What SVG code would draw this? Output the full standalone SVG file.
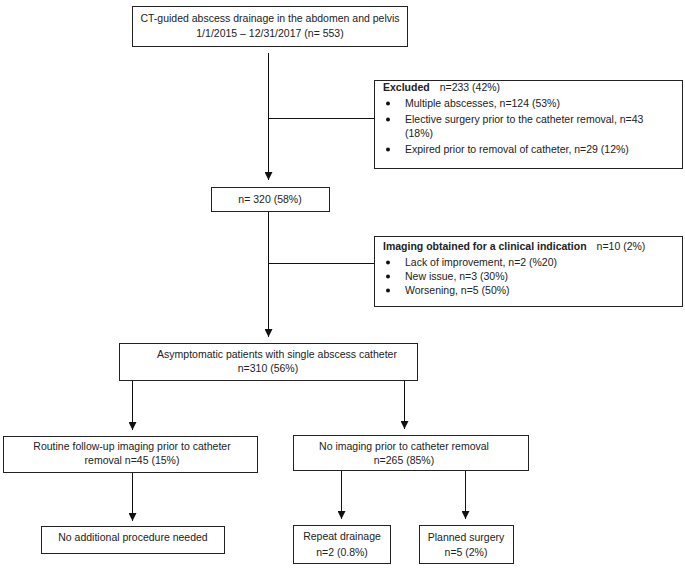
<svg xmlns="http://www.w3.org/2000/svg" width="685" height="571" viewBox="0 0 685 571">
<style>
.box{fill:#fff;stroke:#222;stroke-width:1}
.t{font-family:"Liberation Sans",Arial,sans-serif;font-size:10.5px;fill:#222}
.c{text-anchor:middle}
.b{font-weight:bold}
.bu{fill:#111}
.ln{stroke:#111;stroke-width:1;fill:none}
</style>
<defs>
<marker id="ah" viewBox="0 0 8 8" refX="8" refY="4" markerWidth="8" markerHeight="8" markerUnits="userSpaceOnUse" orient="auto">
<path d="M0,0 L8,4 L0,8 z" fill="#111"/>
</marker>
</defs>
<rect width="685" height="571" fill="#fff"/>
<g id="connectors">
<line class="ln" x1="268.5" y1="53" x2="268.5" y2="180" marker-end="url(#ah)"/>
<line class="ln" x1="268.5" y1="118.5" x2="374" y2="118.5"/>
<line class="ln" x1="268.5" y1="212" x2="268.5" y2="337" marker-end="url(#ah)"/>
<line class="ln" x1="268.5" y1="263.5" x2="374" y2="263.5"/>
<line class="ln" x1="132.5" y1="381" x2="132.5" y2="430" marker-end="url(#ah)"/>
<line class="ln" x1="404.5" y1="381" x2="404.5" y2="429" marker-end="url(#ah)"/>
<line class="ln" x1="132.5" y1="472" x2="132.5" y2="521" marker-end="url(#ah)"/>
<line class="ln" x1="341.5" y1="470" x2="341.5" y2="519" marker-end="url(#ah)"/>
<line class="ln" x1="465.5" y1="470" x2="465.5" y2="519" marker-end="url(#ah)"/>
</g>
<g id="node-start">
<rect class="box" x="132.5" y="6.5" width="275" height="40"/>
<text class="t c" x="270" y="22">CT-guided abscess drainage in the abdomen and pelvis</text>
<text class="t c" x="270" y="37">1/1/2015 – 12/31/2017 (n= 553)</text>
</g>
<g id="node-excluded">
<rect class="box" x="374.5" y="80.5" width="308" height="88"/>
<text class="t" x="383" y="91"><tspan class="b">Excluded</tspan><tspan dx="10">n=233 (42%)</tspan></text>
<circle class="bu" cx="388" cy="103.5" r="2"/>
<text class="t" x="405" y="107">Multiple abscesses, n=124 (53%)</text>
<circle class="bu" cx="388" cy="119.5" r="2"/>
<text class="t" x="405" y="123">Elective surgery prior to the catheter removal, n=43</text>
<text class="t" x="405" y="137">(18%)</text>
<circle class="bu" cx="388" cy="149.5" r="2"/>
<text class="t" x="405" y="153">Expired prior to removal of catheter, n=29 (12%)</text>
</g>
<g id="node-320">
<rect class="box" x="211.5" y="187.5" width="118" height="24"/>
<text class="t c" x="270" y="203">n= 320 (58%)</text>
</g>
<g id="node-imaging">
<rect class="box" x="374.5" y="236.5" width="308" height="70"/>
<text class="t" x="383" y="250"><tspan class="b">Imaging obtained for a clinical indication</tspan><tspan dx="10">n=10 (2%)</tspan></text>
<circle class="bu" cx="388" cy="262.5" r="2"/>
<text class="t" x="405" y="266">Lack of improvement, n=2 (%20)</text>
<circle class="bu" cx="388" cy="276.5" r="2"/>
<text class="t" x="405" y="280">New issue, n=3 (30%)</text>
<circle class="bu" cx="388" cy="290.5" r="2"/>
<text class="t" x="405" y="294">Worsening, n=5 (50%)</text>
</g>
<g id="node-asymptomatic">
<rect class="box" x="119.5" y="343.5" width="298" height="37"/>
<text class="t c" x="277" y="358">Asymptomatic patients with single abscess catheter</text>
<text class="t c" x="268" y="372">n=310 (56%)</text>
</g>
<g id="node-routine">
<rect class="box" x="3.5" y="436.5" width="254" height="36"/>
<text class="t c" x="132" y="450">Routine follow-up imaging prior to catheter</text>
<text class="t c" x="132" y="464">removal n=45 (15%)</text>
</g>
<g id="node-noimaging">
<rect class="box" x="293.5" y="435.5" width="235" height="35"/>
<text class="t c" x="404" y="450">No imaging prior to catheter removal</text>
<text class="t c" x="404" y="464">n=265 (85%)</text>
</g>
<g id="node-noadditional">
<rect class="box" x="41.5" y="526.5" width="183" height="27"/>
<text class="t c" x="133" y="541">No additional procedure needed</text>
</g>
<g id="node-repeat">
<rect class="box" x="293.5" y="525.5" width="97" height="38"/>
<text class="t c" x="342" y="540">Repeat drainage</text>
<text class="t c" x="342" y="556">n=2 (0.8%)</text>
</g>
<g id="node-planned">
<rect class="box" x="419.5" y="525.5" width="94" height="38"/>
<text class="t c" x="466" y="541">Planned surgery</text>
<text class="t c" x="466" y="556">n=5 (2%)</text>
</g>
</svg>
